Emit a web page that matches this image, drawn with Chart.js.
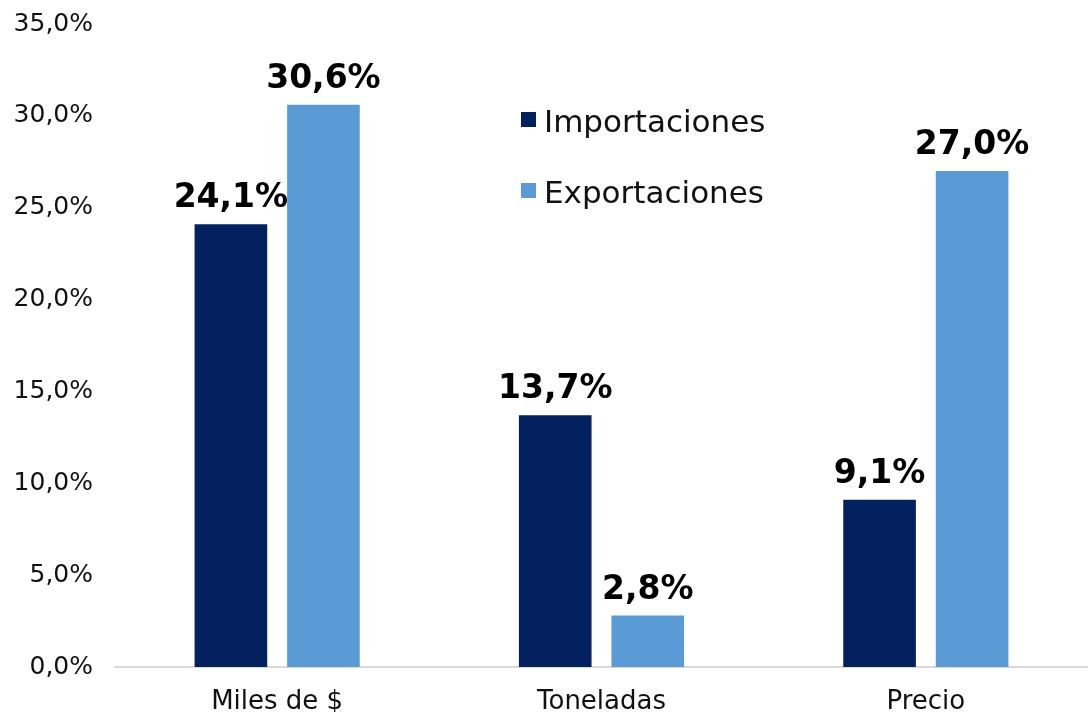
<!DOCTYPE html>
<html>
<head>
<meta charset="utf-8">
<script src="https://cdn.jsdelivr.net/npm/chart.js@4.4.0/dist/chart.umd.min.js"></script>
<style>
html,body{margin:0;padding:0;background:#fff;}
#wrap{width:1088px;height:712px;position:relative;}
</style>
</head>
<body>
<div id="wrap"><canvas id="c" width="1088" height="712"></canvas></div>
<script>
const categories = ["Miles de $", "Toneladas", "Precio"];
const importaciones = [24.1, 13.7, 9.1];
const exportaciones = [30.6, 2.8, 27.0];
const seriesNames = ["Importaciones", "Exportaciones"];
const yTicks = [0, 5, 10, 15, 20, 25, 30, 35];

const FONT = "'DejaVu Sans', sans-serif";
const fmt = v => v.toFixed(1).replace('.', ',') + '%';

const labelsPlugin = {
  id: 'valueLabels',
  afterDatasetsDraw(chart) {
    const ctx = chart.ctx;
    ctx.save();
    ctx.font = "bold 33px " + FONT;
    ctx.fillStyle = '#000';
    ctx.textAlign = 'center';
    ctx.textBaseline = 'alphabetic';
    chart.data.datasets.forEach((ds, i) => {
      chart.getDatasetMeta(i).data.forEach((bar, j) => {
        ctx.fillText(fmt(ds.data[j]), bar.x, bar.y - 17);
      });
    });
    ctx.restore();
  }
};

const legendPlugin = {
  id: 'insideLegend',
  afterDraw(chart) {
    const ctx = chart.ctx;
    ctx.save();
    ctx.font = "31px " + FONT;
    ctx.textBaseline = 'alphabetic';
    ctx.textAlign = 'left';
    const x = 521, ys = [112, 183];
    chart.data.datasets.forEach((ds, i) => {
      ctx.fillStyle = ds.backgroundColor;
      ctx.fillRect(x, ys[i], 15, 15);
      ctx.fillStyle = '#111';
      ctx.fillText(ds.label, x + 23, ys[i] + 20);
    });
    ctx.restore();
  }
};

const zeroPad = axis => {
  axis.paddingTop = 0; axis.paddingBottom = 0;
  axis.paddingLeft = 0; axis.paddingRight = 0;
};

new Chart(document.getElementById('c'), {
  type: 'bar',
  data: {
    labels: categories,
    datasets: [
      { label: seriesNames[0], data: importaciones, backgroundColor: '#03215E' },
      { label: seriesNames[1], data: exportaciones, backgroundColor: '#5B9BD5' }
    ]
  },
  options: {
    responsive: false,
    animation: false,
    devicePixelRatio: 1,
    layout: { padding: { top: 24, right: 0, left: 13, bottom: 0 } },
    categoryPercentage: 0.5706,
    barPercentage: 0.785,
    plugins: { legend: { display: false }, tooltip: { enabled: false } },
    scales: {
      x: {
        grid: { display: false, drawTicks: false },
        border: { display: true, color: '#d9d9d9', width: 2 },
        ticks: { color: '#111', font: { family: FONT, size: 26 }, padding: 20 },
        afterFit: axis => { zeroPad(axis); axis.height = 45; }
      },
      y: {
        min: 0, max: 35,
        afterBuildTicks: axis => { axis.ticks = yTicks.map(v => ({ value: v })); },
        grid: { display: false, drawTicks: false },
        border: { display: false },
        ticks: { color: '#111', font: { family: FONT, size: 25 }, padding: 22,
                 callback: v => fmt(v) },
        afterFit: axis => { zeroPad(axis); axis.width = 102; }
      }
    }
  },
  plugins: [labelsPlugin, legendPlugin]
});
</script>
</body>
</html>
